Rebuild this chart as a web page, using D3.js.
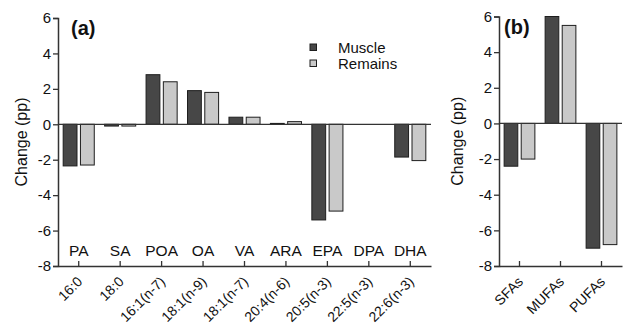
<!DOCTYPE html>
<html>
<head>
<meta charset="utf-8">
<script src="https://cdn.jsdelivr.net/npm/d3@7"></script>
<style>
  body { margin: 0; background: #fff; }
  svg { font-family: "Liberation Sans", Arial, sans-serif; }
</style>
</head>
<body>
<svg id="chart" width="625" height="324"></svg>
<script>
// panel (a): individual fatty acids
var acids = ['16:0', '18:0', '16:1(n-7)', '18:1(n-9)', '18:1(n-7)', '20:4(n-6)', '20:5(n-3)', '22:5(n-3)', '22:6(n-3)'];
var acidNames = ['PA', 'SA', 'POA', 'OA', 'VA', 'ARA', 'EPA', 'DPA', 'DHA'];
var acidMuscle = [-2.35, -0.1, 2.8, 1.9, 0.4, 0.05, -5.4, 0, -1.85];
var acidRemains = [-2.3, -0.1, 2.4, 1.8, 0.4, 0.15, -4.9, 0, -2.05];

// panel (b): classes
var classes = ['SFAs', 'MUFAs', 'PUFAs'];
var classMuscle = [-2.4, 6.0, -7.0];
var classRemains = [-2.0, 5.5, -6.8];

var seriesNames = ['Muscle', 'Remains'];
var yTicks = [6, 4, 2, 0, -2, -4, -6, -8];

var colors = { Muscle: '#474747', Remains: '#c9c9c9' };
var FONT = '"Liberation Sans", Arial, sans-serif';

var svg = d3.select('#chart');

function drawPanel(opts) {
  var y = d3.scaleLinear().domain([-8, 6]).range([opts.bottom, opts.top]);
  var x = d3.scaleBand().domain(opts.cats).range([opts.left, opts.right]);
  var inner = d3.scaleBand().domain(seriesNames).range([0, x.bandwidth()]).paddingInner(0.2).paddingOuter(0.3);

  var g = svg.append('g');

  var rows = opts.cats.map(function (c, i) {
    return { cat: c, Muscle: opts.muscle[i], Remains: opts.remains[i] };
  });

  var groups = g.selectAll('.grp').data(rows).enter().append('g')
    .attr('transform', function (d) { return 'translate(' + x(d.cat) + ',0)'; });

  groups.selectAll('rect')
    .data(function (d) {
      return seriesNames.map(function (s) { return { s: s, v: d[s] }; })
        .filter(function (e) { return e.v !== 0; });
    })
    .enter().append('rect')
    .attr('x', function (d) { return inner(d.s); })
    .attr('width', inner.bandwidth())
    .attr('y', function (d) { return y(Math.max(0, d.v)); })
    .attr('height', function (d) { return Math.abs(y(d.v) - y(0)); })
    .attr('fill', function (d) { return colors[d.s]; })
    .attr('stroke', '#1e1e1e')
    .attr('stroke-width', 1);

  // zero line
  g.append('line')
    .attr('x1', opts.left).attr('x2', opts.right)
    .attr('y1', y(0)).attr('y2', y(0))
    .attr('stroke', '#333').attr('stroke-width', 1.3);

  // y axis
  var yAxis = g.append('g')
    .attr('transform', 'translate(' + opts.left + ',0)')
    .call(d3.axisLeft(y).tickValues(yTicks).tickSize(5).tickPadding(2).tickFormat(d3.format('d')));
  yAxis.select('.domain').attr('stroke', '#333').attr('stroke-width', 1.5);
  yAxis.selectAll('.tick line').attr('stroke', '#333').attr('stroke-width', 1.3);
  yAxis.selectAll('.tick text').attr('font-size', 15).attr('fill', '#111')
    .attr('font-family', FONT)
    .text(function (d) { return d < 0 ? '-' + Math.abs(d) : d; });

  // x axis with inward ticks
  var xAxis = g.append('g')
    .attr('transform', 'translate(0,' + opts.bottom + ')')
    .call(d3.axisBottom(x).tickSize(-5).tickSizeOuter(0).tickPadding(8));
  xAxis.select('.domain').attr('stroke', '#333').attr('stroke-width', 1.5);
  xAxis.selectAll('.tick line').attr('stroke', '#333').attr('stroke-width', 1.3);
  xAxis.selectAll('.tick text')
    .attr('font-size', 14).attr('fill', '#111')
    .attr('font-family', FONT)
    .attr('text-anchor', 'end')
    .attr('dy', '0.35em')
    .attr('x', 0).attr('y', 0)
    .attr('transform', 'translate(1,13) rotate(-45)');

  // axis title
  g.append('text')
    .attr('transform', 'translate(' + opts.titleX + ',' + y(-1) + ') rotate(-90)')
    .attr('text-anchor', 'middle')
    .attr('font-size', 16)
    .attr('font-family', FONT)
    .attr('fill', '#111')
    .text('Change (pp)');

  // panel label
  g.append('text')
    .attr('x', opts.left + opts.labelDx).attr('y', opts.top + 17)
    .attr('font-size', 20).attr('font-weight', 'bold').attr('fill', '#111')
    .attr('font-family', FONT)
    .text(opts.label);

  return { g: g, x: x, y: y };
}

var pa = drawPanel({
  cats: acids, muscle: acidMuscle, remains: acidRemains,
  left: 58, right: 431, top: 18, bottom: 266, titleX: 27, label: '(a)', labelDx: 13
});

// common names above the x axis
pa.g.selectAll('.abbr').data(acids).enter().append('text')
  .attr('x', function (d) { return pa.x(d) + pa.x.bandwidth() / 2; })
  .attr('y', 256)
  .attr('text-anchor', 'middle')
  .attr('font-size', 15.5)
  .attr('font-family', FONT)
  .attr('fill', '#111')
  .text(function (d, i) { return acidNames[i]; });

// legend
var legend = svg.append('g').attr('transform', 'translate(310,44)');
var leg = legend.selectAll('g').data(seriesNames).enter().append('g')
  .attr('transform', function (d, i) { return 'translate(0,' + i * 16 + ')'; });
leg.append('rect').attr('width', 6.5).attr('height', 6.5)
  .attr('fill', function (d) { return colors[d]; })
  .attr('stroke', '#1e1e1e').attr('stroke-width', 1);
leg.append('text').attr('x', 28).attr('y', 8.5)
  .attr('font-size', 15).attr('font-family', FONT).attr('fill', '#111')
  .text(function (d) { return d; });

drawPanel({
  cats: classes, muscle: classMuscle, remains: classRemains,
  left: 499, right: 622, top: 16.5, bottom: 266, titleX: 463, label: '(b)', labelDx: 5
});
</script>
</body>
</html>
